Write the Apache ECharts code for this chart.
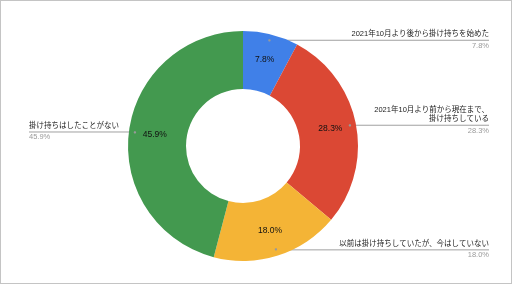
<!DOCTYPE html>
<html><head><meta charset="utf-8">
<script src="https://cdn.jsdelivr.net/npm/echarts@6/dist/echarts.min.js"></script>
<style>
html,body{margin:0;padding:0;background:#fff}
#wrap{position:relative;width:512px;height:284px}
#c{position:absolute;left:0;top:0;width:512px;height:284px}
#frame{position:absolute;left:0;top:0;width:512px;height:284px;box-sizing:border-box;border:1px solid #c4c4c4;pointer-events:none}
</style>
</head><body>
<div id="wrap"><div id="c"></div><div id="frame"></div></div>
<script>
const categories = [
  '2021年10月より後から掛け持ちを始めた',
  '2021年10月より前から現在まで、\n掛け持ちしている',
  '以前は掛け持ちしていたが、今はしていない',
  '掛け持ちはしたことがない'
];
const values = [7.8, 28.3, 18.0, 45.9];
const colors = ['#4080E8', '#DB4834', '#F4B436', '#43994F'];

const FONT = "'Liberation Sans', 'Noto Sans CJK JP', sans-serif";
const chart = echarts.init(document.getElementById('c'), null, {renderer: 'canvas'});
const W = chart.getWidth();
const CENTER = [243, 146];
const RIGHT_EDGE = W - 23;
const LEFT_EDGE = 29;

const data = categories.map((n, i) => ({name: n, value: values[i], itemStyle: {color: colors[i]}}));
const pct = v => v.toFixed(1) + '%';

function sideOf(pt) { return pt[0] > CENTER[0]; }

function overlay(extra) {
  return Object.assign({
    type: 'pie',
    center: CENTER,
    radius: [0, 109],
    startAngle: 90,
    clockwise: true,
    silent: true,
    avoidLabelOverlap: false,
    itemStyle: {color: 'rgba(0,0,0,0)'},
    emphasis: {disabled: true},
    data: categories.map((n, i) => ({name: n, value: values[i]}))
  }, extra);
}

chart.setOption({
  animation: false,
  series: [
    {
      type: 'pie',
      center: CENTER,
      radius: [57, 115],
      startAngle: 90,
      clockwise: true,
      avoidLabelOverlap: false,
      data: data,
      label: {
        show: true,
        position: 'inside',
        formatter: p => pct(p.value),
        fontFamily: FONT,
        fontSize: 8.5,
        color: '#111'
      },
      labelLine: {show: false},
      emphasis: {disabled: true}
    },
    overlay({
      label: {
        show: true,
        position: 'outside',
        formatter: p => p.name,
        fontFamily: FONT,
        fontSize: 7.5,
        lineHeight: 9,
        color: '#222'
      },
      labelLine: {show: true, length: 0, length2: 0, lineStyle: {color: '#a0a0a0', width: 1}},
      labelLayout: function (p) {
        if (!p.labelLinePoints) return {};
        const pt = p.labelLinePoints[0];
        const right = sideOf(pt);
        const ex = right ? RIGHT_EDGE : LEFT_EDGE;
        return {
          x: ex, y: pt[1] - 1.5,
          align: right ? 'right' : 'left',
          verticalAlign: 'bottom',
          labelLinePoints: [pt.slice(), [ex, pt[1]], [ex, pt[1]]]
        };
      }
    }),
    overlay({
      label: {
        show: true,
        position: 'outside',
        formatter: p => pct(p.value),
        fontFamily: FONT,
        fontSize: 7.5,
        color: '#9a9a9a'
      },
      labelLine: {show: true, length: 0, length2: 0, lineStyle: {opacity: 0}},
      labelLayout: function (p) {
        if (!p.labelLinePoints) return {};
        const pt = p.labelLinePoints[0];
        const right = sideOf(pt);
        const ex = right ? RIGHT_EDGE : LEFT_EDGE;
        return {
          x: ex, y: pt[1] + 1.5,
          align: right ? 'right' : 'left',
          verticalAlign: 'top'
        };
      }
    }),
    overlay({
      label: {
        show: true,
        position: 'outside',
        formatter: () => '●',
        fontFamily: FONT,
        fontSize: 5.5,
        color: '#999'
      },
      labelLine: {show: true, length: 0, length2: 0, lineStyle: {opacity: 0}},
      labelLayout: function (p) {
        if (!p.labelLinePoints) return {};
        const pt = p.labelLinePoints[0];
        return {x: pt[0], y: pt[1], align: 'center', verticalAlign: 'middle'};
      }
    })
  ]
});
</script>
</body></html>
